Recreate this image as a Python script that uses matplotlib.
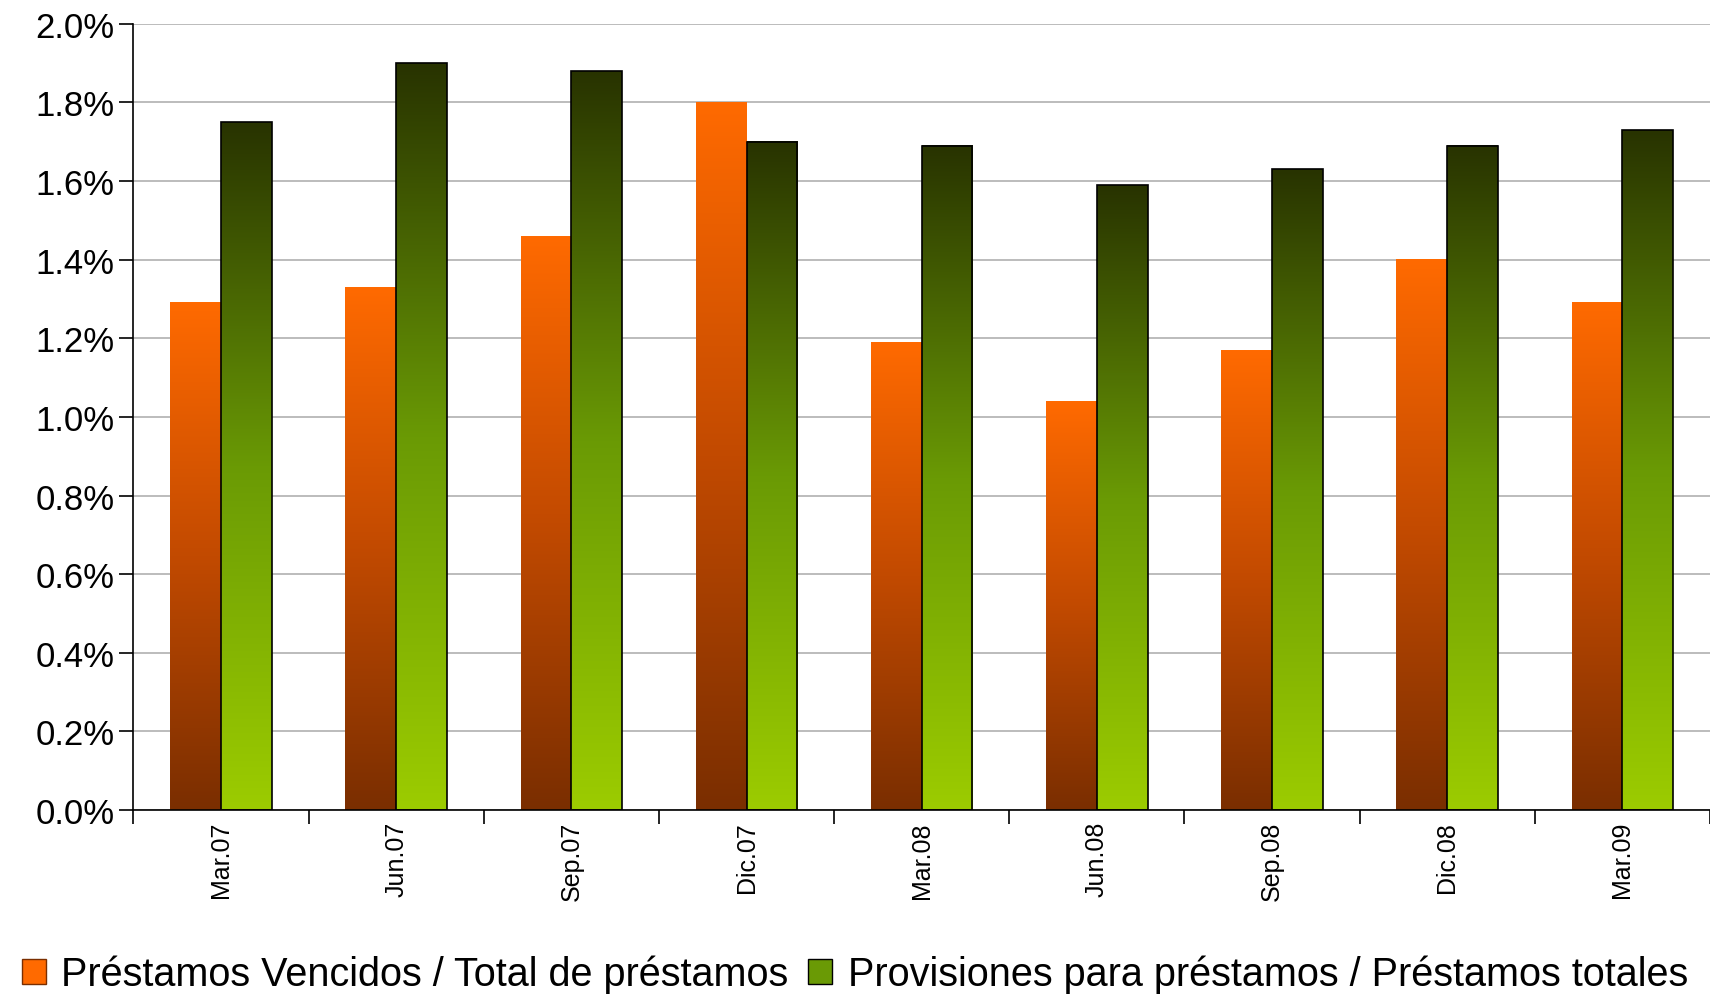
import numpy as np
import matplotlib.pyplot as plt
from matplotlib.colors import LinearSegmentedColormap
from matplotlib.patches import Patch
from matplotlib.ticker import FuncFormatter, MultipleLocator

plt.rcParams['font.family'] = ['Liberation Sans', 'DejaVu Sans']

categories = ["Mar.07", "Jun.07", "Sep.07", "Dic.07", "Mar.08", "Jun.08", "Sep.08", "Dic.08", "Mar.09"]
vencidos = [1.29, 1.33, 1.46, 1.80, 1.19, 1.04, 1.17, 1.40, 1.29]
provisiones = [1.75, 1.90, 1.88, 1.70, 1.69, 1.59, 1.63, 1.69, 1.73]
series_names = ["Préstamos Vencidos / Total de préstamos",
                "Provisiones para préstamos / Préstamos totales"]

orange_cm = LinearSegmentedColormap.from_list("o", ["#7a2e00", "#c24a00", "#ff6a00"])
green_cm = LinearSegmentedColormap.from_list("g", ["#9ccc00", "#6a9a05", "#283300"])

fig = plt.figure(figsize=(17.1, 9.95), dpi=100)
ax = fig.add_axes([0.078, 0.185, 0.922, 0.79])

grad = np.linspace(0, 1, 256).reshape(-1, 1)
w = 0.29
x = np.arange(len(categories))


def gradient_bars(xs, heights, cmap, edge):
    for xi, h in zip(xs, heights):
        ax.imshow(grad, cmap=cmap, origin="lower", aspect="auto",
                  extent=[xi - w / 2, xi + w / 2, 0, h], zorder=2)
        ax.bar(xi, h, width=w, facecolor="none",
               edgecolor=edge if edge else "none", linewidth=1.2, zorder=3)


gradient_bars(x - w / 2, vencidos, orange_cm, None)
gradient_bars(x + w / 2, provisiones, green_cm, "black")

ax.set_xlim(-0.5, len(categories) - 0.5)
ax.set_ylim(0, 2.0)
ax.yaxis.set_major_locator(MultipleLocator(0.2))
ax.yaxis.set_major_formatter(FuncFormatter(lambda v, p: f"{v:.1f}%"))
ax.yaxis.grid(True, color="#b0b0b0", linewidth=1.2, zorder=0)
ax.set_axisbelow(True)

ax.set_xticks(x)
ax.set_xticklabels(categories, rotation=90, fontsize=18)
ax.tick_params(axis="x", length=0, pad=8)
ax.set_xticks(np.arange(-0.5, len(categories)), minor=True)
ax.tick_params(axis="x", which="minor", length=10, width=1.2, direction="out")
ax.tick_params(axis="y", labelsize=25, length=10, width=1.2, direction="out")

for s in ["top", "right"]:
    ax.spines[s].set_visible(False)
ax.spines["left"].set_linewidth(1.2)
ax.spines["bottom"].set_linewidth(1.2)

handles = [Patch(facecolor="#ff6a00", edgecolor="#7a2e00"),
           Patch(facecolor="#6a9a05", edgecolor="black")]
fig.legend(handles, series_names, loc="lower center", bbox_to_anchor=(0.5, -0.035),
           ncol=2, frameon=False, fontsize=28.5, handlelength=0.6, handleheight=0.6,
           handletextpad=0.4, columnspacing=0.5)

fig.savefig("out.png")
